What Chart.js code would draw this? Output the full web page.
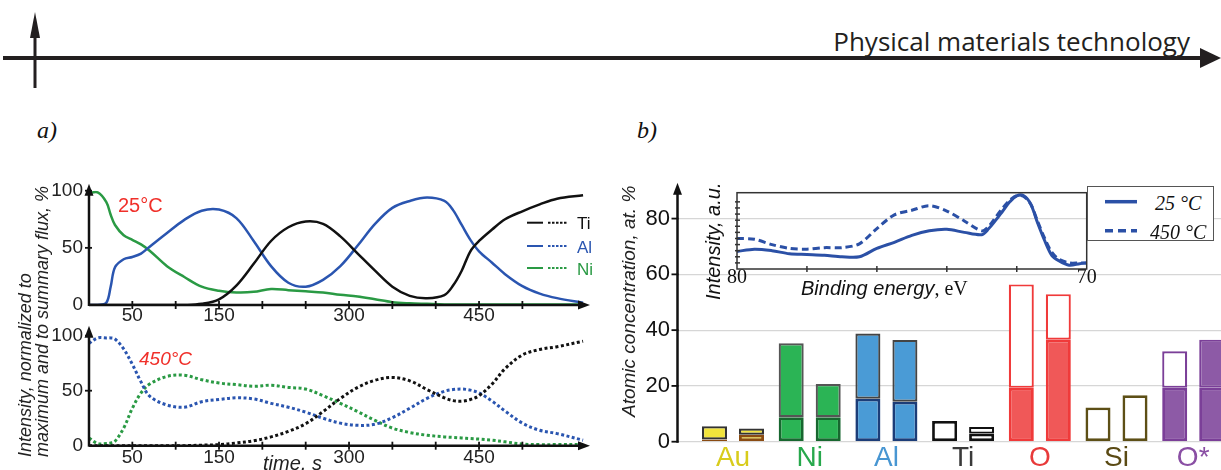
<!DOCTYPE html>
<html>
<head>
<meta charset="utf-8">
<script src="https://cdn.jsdelivr.net/npm/chart.js@4.4.1/dist/chart.umd.min.js"></script>
<style>
  body { margin: 0; width: 1221px; height: 470px; overflow: hidden; background: #fff; position: relative;
         font-family: "Liberation Sans", Arial, sans-serif; color: #111; }
  canvas, svg, .t { position: absolute; }
  .t { white-space: nowrap; line-height: 1; }
  .rot { transform: rotate(-90deg); transform-origin: 0 0; }
</style>
</head>
<body>

<svg style="left:0;top:0" width="1221" height="100">
  <line x1="3" y1="58" x2="1204" y2="58" stroke="#231f20" stroke-width="4"/>
  <polygon points="1200,48 1221,58 1200,68" fill="#231f20"/>
  <line x1="35" y1="34" x2="35" y2="88" stroke="#231f20" stroke-width="3"/>
  <polygon points="30,38 35,12 40,38" fill="#231f20"/>
</svg>
<div class="t" style="right:31px;top:23px;font:26px 'Open Sans',sans-serif;color:#231f20">Physical materials technology</div>
<div class="t" style="left:37px;top:117px;font:italic 24px 'Liberation Serif',serif">a)</div>
<div class="t" style="left:637px;top:117px;font:italic 24px 'Liberation Serif',serif">b)</div>

<canvas id="cTop" width="600" height="155" style="left:0;top:170px"></canvas>
<canvas id="cBot" width="600" height="155" style="left:0;top:315px"></canvas>
<canvas id="cBar" width="680" height="300" style="left:560px;top:170px"></canvas>
<canvas id="cIns" width="420" height="120" style="left:690px;top:175px"></canvas>

<!-- panel a labels -->
<div class="t rot" style="left:16.5px;top:457px;font:italic 18px 'Liberation Sans';line-height:17px;color:#222">Intensity, normalized to<br>maximum and to summary flux, %</div>
<div class="t" style="left:118px;top:194px;font:20px 'Liberation Sans';color:#f0302a">25°C</div>
<div class="t" style="left:139px;top:348px;font:italic 19px 'Liberation Sans';color:#f0302a">450°C</div>
<div class="t" style="left:263px;top:452px;font:italic 20px 'Liberation Sans';color:#222">time, s</div>
<svg style="left:520px;top:210px" width="55" height="70">
  <line x1="7" y1="12.7" x2="23" y2="12.7" stroke="#111" stroke-width="2"/>
  <line x1="28" y1="12.7" x2="47" y2="12.7" stroke="#111" stroke-width="2" stroke-dasharray="2.5 1.5"/>
  <line x1="7" y1="36" x2="23" y2="36" stroke="#2a55b0" stroke-width="2"/>
  <line x1="28" y1="36" x2="47" y2="36" stroke="#2a55b0" stroke-width="2" stroke-dasharray="2.5 1.5"/>
  <line x1="7" y1="58" x2="23" y2="58" stroke="#2a9a44" stroke-width="2"/>
  <line x1="28" y1="58" x2="47" y2="58" stroke="#2a9a44" stroke-width="2" stroke-dasharray="2.5 1.5"/>
</svg>
<div class="t" style="left:577px;top:214px;font:17px 'Liberation Sans';color:#111">Ti</div>
<div class="t" style="left:577px;top:238px;font:17px 'Liberation Sans';color:#2a55b0">Al</div>
<div class="t" style="left:577px;top:260px;font:17px 'Liberation Sans';color:#2a9a44">Ni</div>

<!-- panel b labels -->
<div class="t rot" style="left:618.5px;top:417px;font:italic 19px 'Liberation Sans';line-height:19px;color:#222">Atomic concentration, at. %</div>
<div class="t rot" style="left:703px;top:300px;font:italic 20px 'Liberation Sans';line-height:20px;color:#111">Intensity, a.u.</div>
<div class="t" style="left:801px;top:277px;font:italic 20px 'Liberation Sans';color:#111">Binding energy<span style="font:normal 20px 'Liberation Serif'">, eV</span></div>
<div style="position:absolute;left:1087px;top:186px;width:127px;height:55px;border:1.5px solid #555;background:#fff;box-sizing:border-box"></div>
<svg style="left:1100px;top:190px" width="45" height="50">
  <line x1="5" y1="11.7" x2="37" y2="11.7" stroke="#2b50a6" stroke-width="3.5"/>
  <line x1="5" y1="40.7" x2="37" y2="40.7" stroke="#2b50a6" stroke-width="3.5" stroke-dasharray="8 5"/>
</svg>
<div class="t" style="left:1155px;top:191.6px;font:italic 20px 'Liberation Serif';color:#111">25 °C</div>
<div class="t" style="left:1150px;top:220.6px;font:italic 20px 'Liberation Serif';color:#111">450 °C</div>

<script>
// ---- panel a: depth profiles, time in s ----
var time = [0, 10, 20, 25, 30, 40, 50, 60, 70, 90, 110, 130, 150, 170, 190, 210, 230, 250, 270, 290,
            310, 330, 350, 370, 390, 410, 420, 430, 440, 450, 465, 480, 500, 520, 540, 570];
var timeTicks = [50, 150, 300, 450];

// 25 °C
var ti25 = [0, 0, 0, 0, 0, 0, 0, 0, 0, 0, 0, 1, 5, 17, 36, 56, 68, 73, 71, 60,
            45, 30, 16, 8, 6, 8.7, 17, 30, 47, 56, 66, 75, 82, 88, 93, 96];
var al25 = [0, 0, 2, 16, 33, 40, 42, 45, 51, 63, 74.5, 82.5, 83.5, 76, 56, 34, 19.5, 16, 22, 34,
            52, 71, 85, 91, 94, 91, 83, 70, 57, 47, 37, 27, 16.5, 10, 6, 2];
var ni25 = [98, 98.5, 90, 79, 70, 61, 57, 53, 47.5, 34, 24.5, 16, 12.5, 11, 11.5, 14, 13, 12, 11, 9,
            7.5, 5, 2.5, 1.5, 1, 0.5, 0.5, 0.5, 0.5, 0.5, 0.5, 0.5, 0.5, 0.5, 0.5, 0.5];

// 450 °C
var ti450 = [0, 0, 0, 0, 0, 0, 0, 0, 0, 0, 0, 0.5, 1, 2.5, 4.5, 8, 13, 20, 31, 43,
             53, 59.5, 62, 59, 51, 43.5, 41, 40.5, 42, 45.5, 56, 70, 82.5, 87.5, 90, 95];
var al450 = [93, 98, 98, 98, 97, 88, 74, 58, 45, 37, 35, 40, 42, 43.5, 42.5, 38.5, 35, 30.5, 25, 20.5,
             18.5, 19.5, 25.5, 34, 43, 49.5, 51, 51.5, 50.5, 48, 40.5, 31.5, 20.5, 14, 11, 5];
var ni450 = [7, 2, 2, 2.5, 4, 16, 34, 48, 56, 63, 64, 60, 57, 55.5, 54, 55, 53, 51.5, 45.5, 38.5,
             31, 23, 16, 12, 9.5, 8, 7.5, 7, 6.5, 6, 5, 3.5, 1.5, 1, 1, 1];

// ---- panel b: atomic concentration, at. % ----
var elements = ['Au', 'Ni', 'Al', 'Ti', 'O', 'Si', 'O*'];
var low25  = [0.8, 8.8, 15.4, 7.4, 19.3, 12.3, 19.3];
var high25 = [4.7, 26.5, 23.4, null, 37.1, null, 13.1];
var low450  = [2.5, 8.8, 14.3, 2.9, 36.6, 16.7, 19.3];
var high450 = [2.2, 11.9, 22.2, 2.4, 16.3, null, 17.3];

// inset: XPS spectra
var energy = [80, 79.5, 79, 78.5, 78, 77.5, 77, 76.5, 76, 75.5, 75, 74.5, 74, 73.5, 73, 72.8, 72.6, 72.4,
              72.2, 72, 71.8, 71.6, 71.4, 71.2, 71, 70.8, 70.5, 70.2, 70];
var spec25  = [23, 26, 24, 20, 19, 18, 16, 16, 27, 35, 44, 50, 52, 48, 45, 53, 64, 76,
               88, 96, 96, 85, 60, 37, 18, 11, 5, 7, 8];
var spec450 = [40, 39, 32, 27, 26, 28, 28, 33, 53, 71, 77, 83, 76, 63, 50, 56, 68, 80,
               90, 96, 95, 85, 62, 40, 22, 13, 8, 8, 8];

// colours
var cTi = '#111111', cAl = '#2a55b0', cNi = '#2a9a44', cSpec = '#2b50a6';
var fillLow25  = ['#f2e43c', '#2bb455', '#4a9bd6', '#ffffff', '#f05858', '#ffffff', '#8d5aa6'];
var fillHigh25 = ['#f2e43c', '#2bb455', '#4a9bd6', '#ffffff', '#ffffff', '#ffffff', '#ffffff'];
var fillHigh450 = ['#f2e43c', '#2bb455', '#4a9bd6', '#ffffff', '#ffffff', '#ffffff', '#8d5aa6'];
var edgeLow  = ['#8a4b12', '#17672f', '#1c3d78', '#111111', '#f03a3a', '#5d4f16', '#7b3f98'];
var edgeHigh = ['#333333', '#555555', '#444444', '#111111', '#f03a3a', '#5d4f16', '#7b3f98'];
var labelColors = ['#d8cc1c', '#27a84c', '#4896d2', '#3a3a3a', '#e83a3a', '#5a4a14', '#8a4fa4'];

Chart.defaults.font.family = '"Liberation Sans", Arial, sans-serif';
Chart.defaults.color = '#222';

// axes with arrows and cross ticks
var axisArrows = {
    id: 'axisArrows',
    afterDraw: function (chart, args, o) {
        var ctx = chart.ctx, a = chart.chartArea, sx = chart.scales.x, sy = chart.scales.y;
        ctx.save();
        ctx.strokeStyle = o.color || '#111';
        ctx.fillStyle = o.color || '#111';
        ctx.lineWidth = o.width || 2.5;
        if (o.box) {
            ctx.strokeRect(a.left, a.top, a.right - a.left, a.bottom - a.top);
        }
        if (o.yAxis) {
            var ty = a.top - o.yArrow;
            ctx.beginPath(); ctx.moveTo(a.left, a.bottom + 1); ctx.lineTo(a.left, ty + 8); ctx.stroke();
            ctx.beginPath(); ctx.moveTo(a.left, ty); ctx.lineTo(a.left - 4.5, ty + 12);
            ctx.lineTo(a.left + 4.5, ty + 12); ctx.closePath(); ctx.fill();
        }
        if (o.xAxis) {
            var tx = a.right + o.xArrow;
            ctx.beginPath(); ctx.moveTo(a.left, a.bottom); ctx.lineTo(tx - 8, a.bottom); ctx.stroke();
            ctx.beginPath(); ctx.moveTo(tx, a.bottom); ctx.lineTo(tx - 12, a.bottom - 4.5);
            ctx.lineTo(tx - 12, a.bottom + 4.5); ctx.closePath(); ctx.fill();
        }
        ctx.lineWidth = o.tickWidth || 1.8;
        if (o.xTick) {
            sx.ticks.forEach(function (t) {
                if (t.value <= sx.min || t.value >= sx.max) return;
                var px = sx.getPixelForValue(t.value);
                ctx.beginPath(); ctx.moveTo(px, a.bottom - o.xTick[0]); ctx.lineTo(px, a.bottom + o.xTick[1]); ctx.stroke();
            });
        }
        if (o.yTick) {
            sy.ticks.forEach(function (t) {
                if (!o.yTickMin && t.value <= sy.min) return;
                if (!o.yTickMax && t.value >= sy.max) return;
                if (o.yEvery && t.value % o.yEvery !== 0) return;
                var py = sy.getPixelForValue(t.value);
                ctx.beginPath(); ctx.moveTo(a.left - o.yTick[0], py); ctx.lineTo(a.left + o.yTick[1], py); ctx.stroke();
            });
        }
        ctx.restore();
    }
};

function points(xs, ys) {
    return xs.map(function (x, i) { return { x: x, y: ys[i] }; });
}

function renderProfile(id, series, dotted, xHeight, xPad, yArrow) {
    var datasets = series.map(function (s) {
        return {
            label: s.label,
            data: points(time, s.values),
            borderColor: s.color,
            borderWidth: dotted ? 3 : 2.5,
            borderDash: dotted ? [3, 2.5] : [],
            borderCapStyle: 'butt',
            pointRadius: 0,
            tension: 0.35,
            fill: false
        };
    });
    return new Chart(document.getElementById(id), {
        type: 'line',
        data: { datasets: datasets },
        options: {
            responsive: false,
            animation: false,
            layout: { padding: { top: 20.7, right: 10, left: 0, bottom: 0 } },
            plugins: {
                legend: { display: false },
                tooltip: { enabled: false },
                axisArrows: { yAxis: true, xAxis: true, yArrow: yArrow, xArrow: 0,
                              xTick: [4, 4], yTick: [4, 3], yTickMax: true }
            },
            scales: {
                x: {
                    type: 'linear', min: 0, max: 578,
                    grid: { display: false, drawTicks: false }, border: { display: false },
                    ticks: {
                        stepSize: 50, padding: xPad, maxRotation: 0, autoSkip: false,
                        font: { size: 19 }, color: '#222',
                        callback: function (v) { return timeTicks.indexOf(v) >= 0 ? v : ''; }
                    },
                    afterFit: function (s) { s.height = xHeight; }
                },
                y: {
                    min: 0, max: 100,
                    grid: { display: false, drawTicks: false }, border: { display: false },
                    ticks: { stepSize: 50, padding: 6, font: { size: 19 }, color: '#222' },
                    afterFit: function (s) { s.width = 89; }
                }
            }
        },
        plugins: [axisArrows]
    });
}

renderProfile('cTop', [
    { label: 'Ti', values: ti25, color: cTi },
    { label: 'Al', values: al25, color: cAl },
    { label: 'Ni', values: ni25, color: cNi }
], false, 20, -0.5, 7);

renderProfile('cBot', [
    { label: 'Ti', values: ti450, color: cTi },
    { label: 'Al', values: al450, color: cAl },
    { label: 'Ni', values: ni450, color: cNi }
], true, 24.3, 1, 10);

// ---- bar chart ----
function barSet(label, stack, values, fill, edge, width) {
    return {
        label: label,
        stack: stack,
        data: points(elements.map(function (e, i) { return i; }), values),
        backgroundColor: fill,
        borderColor: edge,
        borderWidth: width,
        borderSkipped: false,
        categoryPercentage: 0.965,
        barPercentage: 0.676
    };
}

new Chart(document.getElementById('cBar'), {
    type: 'bar',
    data: {
        datasets: [
            barSet('25 °C', 's25', low25, fillLow25, edgeLow, 2.8),
            barSet('25 °C', 's25', high25, fillHigh25, edgeHigh, 2.2),
            barSet('450 °C', 's450', low450, fillLow25, edgeLow, 2.8),
            barSet('450 °C', 's450', high450, fillHigh450, edgeHigh, 2.2)
        ]
    },
    options: {
        responsive: false,
        animation: false,
        layout: { padding: { top: 15.1, right: 0, left: 0, bottom: 0 } },
        plugins: {
            legend: { display: false },
            tooltip: { enabled: false },
            axisArrows: { yAxis: true, yArrow: 8, yTick: [6, 1], yTickMin: true, yEvery: 20 }
        },
        scales: {
            x: {
                type: 'linear', min: -0.7236, max: 6.61, offset: false,
                grid: { display: false, drawTicks: false }, border: { display: false },
                afterBuildTicks: function (s) {
                    s.ticks = elements.map(function (e, i) { return { value: i }; });
                },
                ticks: {
                    autoSkip: false, maxRotation: 0, padding: 0,
                    font: { size: 28 },
                    color: function (c) { return labelColors[c.index]; },
                    callback: function (v) { return elements[v]; }
                },
                afterFit: function (s) { s.height = 28.3; }
            },
            y: {
                stacked: true, min: 0, max: 90,
                border: { display: false },
                grid: {
                    drawTicks: false, lineWidth: 1.2,
                    color: function (c) { return c.tick && c.tick.value % 20 === 0 ? '#d6d6d6' : 'rgba(0,0,0,0)'; }
                },
                ticks: {
                    stepSize: 20, padding: 7.5, font: { size: 22 }, color: '#111',
                    callback: function (v) { return v % 20 === 0 ? v : ''; }
                },
                afterFit: function (s) { s.width = 117.5; }
            }
        }
    },
    plugins: [axisArrows]
});

// ---- inset spectra ----
new Chart(document.getElementById('cIns'), {
    type: 'line',
    data: {
        datasets: [
            { label: '25 °C', data: points(energy, spec25), borderColor: cSpec, borderWidth: 3,
              pointRadius: 0, tension: 0.3, fill: false },
            { label: '450 °C', data: points(energy, spec450), borderColor: cSpec, borderWidth: 3,
              borderDash: [7, 4], pointRadius: 0, tension: 0.3, fill: false }
        ]
    },
    options: {
        responsive: false,
        animation: false,
        layout: { padding: { top: 17.7, right: 23.3, left: 0, bottom: 0 } },
        plugins: {
            legend: { display: false },
            tooltip: { enabled: false },
            axisArrows: { box: true, width: 1.5, color: '#333', tickWidth: 1.5,
                          xTick: [3, 3], yTick: [2, 3] }
        },
        scales: {
            x: {
                type: 'linear', reverse: true, min: 70, max: 80,
                grid: { display: false, drawTicks: false }, border: { display: false },
                ticks: {
                    stepSize: 2, padding: -3.6, maxRotation: 0, autoSkip: false,
                    font: { family: '"Liberation Serif", serif', size: 20 }, color: '#111',
                    callback: function (v) { return (v === 70 || v === 80) ? v : ''; }
                },
                afterFit: function (s) { s.height = 26; }
            },
            y: {
                min: 0, max: 100,
                grid: { display: false, drawTicks: false }, border: { display: false },
                ticks: { stepSize: 8, display: false },
                afterFit: function (s) { s.width = 47; }
            }
        }
    },
    plugins: [axisArrows]
});
</script>
</body>
</html>
